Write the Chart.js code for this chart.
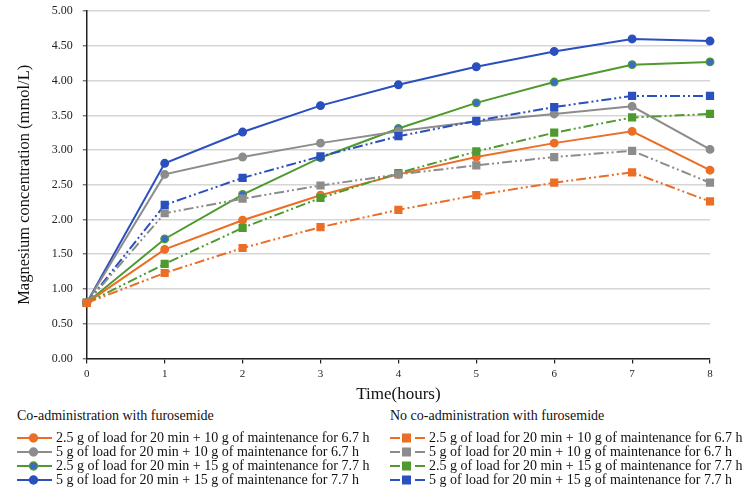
<!DOCTYPE html>
<html>
<head>
<meta charset="utf-8">
<script src="https://cdn.jsdelivr.net/npm/chart.js@4/dist/chart.umd.min.js"></script>
<style>
  body { margin: 0; background: #fff; font-family: "Liberation Serif", "Times New Roman", serif; }
  #wrap { position: relative; width: 744px; height: 492px; overflow: hidden; }
  #chartBox { position: absolute; left: 0; top: -6px; width: 744px; height: 411px; }
  .legend-col { position: absolute; top: 408px; font-size: 14px; color: #111; }
  .legend-col h4 { margin: 0 0 7px 0; font-weight: normal; font-size: 14px; }
  .legend-item { display: flex; align-items: center; height: 14px; white-space: nowrap; }
  .legend-item canvas { margin-right: 4px; }
</style>
</head>
<body>
<div id="wrap">
  <div id="chartBox"><canvas id="magChart"></canvas></div>
  <div class="legend-col" id="legCo" style="left:17px"></div>
  <div class="legend-col" id="legNo" style="left:390px"></div>
</div>
<script>
// hours
const hours = ['0', '1', '2', '3', '4', '5', '6', '7', '8'];

const seriesNames = [
  '2.5 g of load for 20 min + 10 g of maintenance for 6.7 h',
  '5 g of load for 20 min + 10 g of maintenance for 6.7 h',
  '2.5 g of load for 20 min + 15 g of maintenance for 7.7 h',
  '5 g of load for 20 min + 15 g of maintenance for 7.7 h'
];

// co-administration with furosemide (circles, solid)
const coLow10 = [0.80, 1.57, 1.99, 2.35, 2.65, 2.90, 3.10, 3.27, 2.71];
const coHigh10 = [0.80, 2.65, 2.90, 3.10, 3.27, 3.41, 3.52, 3.63, 3.01];
const coLow15 = [0.80, 1.72, 2.36, 2.89, 3.31, 3.68, 3.98, 4.23, 4.27];
const coHigh15 = [0.80, 2.81, 3.26, 3.64, 3.94, 4.20, 4.42, 4.60, 4.57];

// no co-administration (squares, dash-dot)
const noLow10 = [0.80, 1.23, 1.59, 1.89, 2.14, 2.35, 2.53, 2.68, 2.26];
const noHigh10 = [0.80, 2.09, 2.30, 2.49, 2.65, 2.78, 2.90, 2.99, 2.53];
const noLow15 = [0.80, 1.36, 1.88, 2.31, 2.67, 2.98, 3.25, 3.47, 3.52];
const noHigh15 = [0.80, 2.21, 2.60, 2.91, 3.20, 3.42, 3.62, 3.78, 3.78];

const yTicks = [0, 0.5, 1, 1.5, 2, 2.5, 3, 3.5, 4, 4.5, 5];

const colors = ['#EA6E25', '#8C8C8C', '#4E9A2E', '#2A4FBF'];
const coFill = ['#EA6E25', '#8C8C8C', '#3A6CC4', '#2A4FBF'];
const dashDot = [10, 3, 2, 3, 2, 3];

const coData = [coLow10, coHigh10, coLow15, coHigh15];
const noData = [noLow10, noHigh10, noLow15, noHigh15];

const datasets = [];
noData.forEach((d, i) => {
  datasets.push({
    label: seriesNames[i], group: 'no', data: d,
    borderColor: colors[i], backgroundColor: colors[i],
    borderWidth: 2, borderDash: dashDot,
    pointStyle: 'rect', pointRadius: 5.8, pointBorderWidth: 0,
    pointBackgroundColor: colors[i], tension: 0
  });
});
coData.forEach((d, i) => {
  datasets.push({
    label: seriesNames[i], group: 'co', data: d,
    borderColor: colors[i], backgroundColor: coFill[i],
    borderWidth: 2,
    pointStyle: 'circle', pointRadius: 3.8, pointBorderWidth: 1.3,
    pointBorderColor: colors[i], pointBackgroundColor: coFill[i], tension: 0
  });
});

const serif = '"Liberation Serif", "Times New Roman", serif';

const ctx = document.getElementById('magChart').getContext('2d');
const magChart = new Chart(ctx, {
  type: 'line',
  data: { labels: hours, datasets: datasets },
  options: {
    responsive: true,
    maintainAspectRatio: false,
    animation: false,
    layout: { padding: { top: 0, right: 34, left: 15, bottom: 0 } },
    plugins: { legend: { display: false }, tooltip: { enabled: false } },
    scales: {
      x: {
        offset: false,
        grid: { drawOnChartArea: false, drawTicks: true, tickLength: 5, color: '#222', lineWidth: 1.2 },
        border: { color: '#222', width: 1.5 },
        ticks: { color: '#222', font: { family: serif, size: 11 }, padding: 4, maxRotation: 0 },
        title: { display: true, text: 'Time(hours)', color: '#111', font: { family: serif, size: 17 }, padding: { top: 0, bottom: 0 } }
      },
      y: {
        min: 0, max: 5,
        afterBuildTicks: (axis) => { axis.ticks = yTicks.map(v => ({ value: v })); },
        grid: { color: '#D6D6D6', lineWidth: 1.6, tickLength: 4, tickColor: '#444', tickWidth: 1 },
        border: { color: '#222', width: 1.5 },
        ticks: {
          color: '#222', font: { family: serif, size: 12 }, padding: 10,
          callback: (v) => Number(v).toFixed(2)
        },
        title: { display: true, text: 'Magnesium concentration (mmol/L)', color: '#111', font: { family: serif, size: 16.5 }, padding: { top: 0, bottom: 7 } }
      }
    }
  }
});

// legend built from the chart datasets
function drawSample(cv, ds) {
  const c = cv.getContext('2d');
  c.strokeStyle = ds.borderColor;
  c.lineWidth = 2;
  if (ds.group === 'no') {
    c.beginPath(); c.moveTo(0, 7); c.lineTo(10, 7); c.moveTo(25, 7); c.lineTo(35, 7); c.stroke();
    c.fillStyle = ds.backgroundColor;
    c.fillRect(12, 2.5, 9, 9);
  } else {
    c.beginPath(); c.moveTo(0, 7); c.lineTo(35, 7); c.stroke();
    c.fillStyle = ds.pointBackgroundColor;
    c.beginPath(); c.arc(16.5, 7, 4, 0, Math.PI * 2); c.fill();
    c.lineWidth = 1.3; c.strokeStyle = ds.pointBorderColor; c.stroke();
  }
}

function buildLegend(el, title, group) {
  const h = document.createElement('h4');
  h.textContent = title;
  el.appendChild(h);
  magChart.data.datasets.filter(d => d.group === group).forEach(ds => {
    const row = document.createElement('div');
    row.className = 'legend-item';
    const cv = document.createElement('canvas');
    cv.width = 35; cv.height = 14;
    drawSample(cv, ds);
    const sp = document.createElement('span');
    sp.textContent = ds.label;
    row.appendChild(cv); row.appendChild(sp);
    el.appendChild(row);
  });
}
buildLegend(document.getElementById('legCo'), 'Co-administration with furosemide', 'co');
buildLegend(document.getElementById('legNo'), 'No co-administration with furosemide', 'no');
</script>
</body>
</html>
